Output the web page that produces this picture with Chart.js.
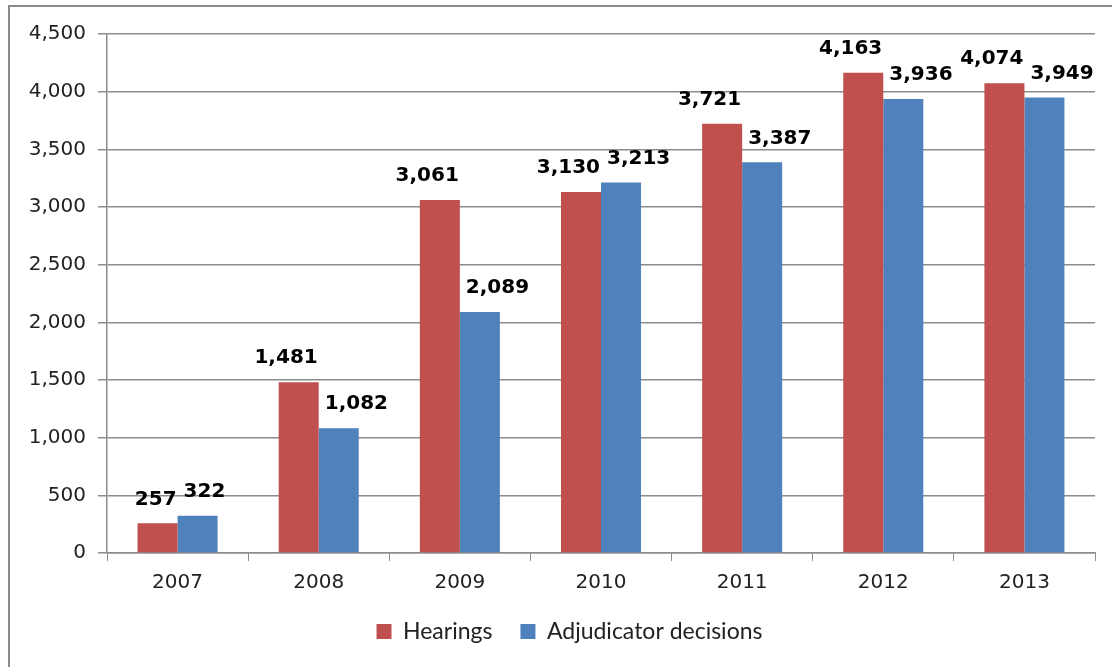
<!DOCTYPE html>
<html>
<head>
<meta charset="utf-8">
<script src="https://cdn.jsdelivr.net/npm/chart.js@4.4.0/dist/chart.umd.min.js"></script>
<style>
    html, body { margin: 0; padding: 0; background: #fff; overflow: hidden; }
    .wrap { position: relative; width: 1112px; height: 667px; }
    .frame { position: absolute; left: 8px; top: 5px; width: 1200px; height: 800px; border: 2px solid #8a8a8a; box-sizing: border-box; }
    #barChart { position: absolute; left: 0; top: 0; }
</style>
</head>
<body>
<div class="wrap">
    <div class="frame"></div>
    <canvas id="barChart" width="1112" height="667"></canvas>
</div>
<script>
// chart data
const years = ['2007', '2008', '2009', '2010', '2011', '2012', '2013'];
const hearings = [257, 1481, 3061, 3130, 3721, 4163, 4074];
const decisions = [322, 1082, 2089, 3213, 3387, 3936, 3949];

const fmt = v => v.toLocaleString('en-US');

// bold value above each bar; red labels lean left, blue labels lean right (like Excel does)
const valueLabels = {
    id: 'valueLabels',
    afterDatasetsDraw(chart) {
        const ctx = chart.ctx;
        ctx.save();
        ctx.font = 'bold 20px "DejaVu Sans"';
        ctx.fillStyle = '#000';
        ctx.textAlign = 'center';
        ctx.textBaseline = 'middle';
        const m0 = chart.getDatasetMeta(0);
        const m1 = chart.getDatasetMeta(1);
        years.forEach((y, i) => {
            const a = m0.data[i], b = m1.data[i];
            const ta = fmt(hearings[i]), tb = fmt(decisions[i]);
            const mid = (a.x + b.x) / 2;
            const wa = ctx.measureText(ta).width, wb = ctx.measureText(tb).width;
            const xa = Math.min(a.x, mid - wa / 2 - 1);
            const xb = Math.max(b.x, mid + 6 + wb / 2);
            ctx.fillText(ta, xa, a.y - 24);
            ctx.fillText(tb, xb, b.y - 24);
        });
        ctx.restore();
    }
};

// nudge the legend to sit where it does in the original
const legendShift = {
    id: 'legendShift',
    afterLayout(chart) {
        chart.legend.left += 22;
        chart.legend.right += 22;
    }
};

const config = {
    type: 'bar',
    data: {
        labels: years,
        datasets: [{
            label: 'Hearings',
            data: hearings,
            backgroundColor: '#C0504D',
            categoryPercentage: 0.567,
            barPercentage: 1
        }, {
            label: 'Adjudicator decisions',
            data: decisions,
            backgroundColor: '#4F81BD',
            categoryPercentage: 0.567,
            barPercentage: 1
        }]
    },
    options: {
        responsive: false,
        animation: false,
        layout: { padding: { top: 34, right: 17, bottom: 14, left: 0 } },
        plugins: {
            legend: {
                position: 'bottom',
                labels: {
                    font: { family: 'Lato', size: 23 },
                    color: '#222',
                    boxWidth: 15,
                    boxHeight: 15,
                    padding: 28,
                    useBorderRadius: false
                }
            },
            tooltip: { enabled: false }
        },
        scales: {
            x: {
                afterFit: s => { s.height = 39; },
                border: { color: '#8c8c8c', width: 1.5 },
                grid: { display: true, drawOnChartArea: false, offset: true, tickLength: 8, color: '#8c8c8c' },
                ticks: { font: { family: 'DejaVu Sans', size: 20 }, color: '#222', padding: 10 }
            },
            y: {
                min: 0,
                max: 4500,
                afterFit: s => { s.width = 107; },
                border: { color: '#8c8c8c', width: 1.5 },
                grid: { color: '#8c8c8c', lineWidth: 1.5, tickLength: 9 },
                ticks: {
                    stepSize: 500,
                    font: { family: 'DejaVu Sans', size: 20 },
                    color: '#222',
                    padding: 12,
                    callback: v => fmt(v)
                }
            }
        }
    },
    plugins: [valueLabels, legendShift]
};

new Chart(document.getElementById('barChart'), config);
</script>
</body>
</html>
